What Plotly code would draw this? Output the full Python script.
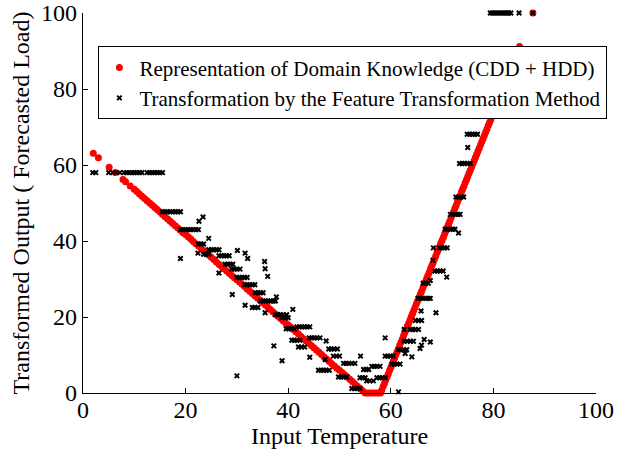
import plotly.graph_objects as go

# ---- Red series: domain knowledge representation (CDD + HDD) ----
red_temp = [
    2.0, 3.0, 5.1, 6.3, 7.8, 8.3, 9.2,
    10.0, 10.5, 11.0, 11.5, 12.0, 12.5, 13.0, 13.5, 14.0, 14.5,
    15.0, 15.5, 16.0, 16.5, 17.0, 17.5, 18.0, 18.5, 19.0, 19.5,
    20.0, 20.5, 21.0, 21.5, 22.0, 22.5, 23.0, 23.5, 24.0, 24.5,
    25.0, 25.5, 26.0, 26.5, 27.0, 27.5, 28.0, 28.5, 29.0, 29.5,
    30.0, 30.5, 31.0, 31.5, 32.0, 32.5, 33.0, 33.5, 34.0, 34.5,
    35.0, 35.5, 36.0, 36.5, 37.0, 37.5, 38.0, 38.5, 39.0, 39.5,
    40.0, 40.5, 41.0, 41.5, 42.0, 42.5, 43.0, 43.5, 44.0, 44.5,
    45.0, 45.5, 46.0, 46.5, 47.0, 47.5, 48.0, 48.5, 49.0, 49.5,
    50.0, 50.5, 51.0, 51.5, 52.0, 52.5, 53.0, 53.5, 54.0, 54.5,
    55.0, 55.5, 56.0, 56.5, 57.0, 57.5,
    58.0, 58.25, 58.5, 58.75, 59.0, 59.25, 59.5, 59.75,
    60.0, 60.25, 60.5, 60.75, 61.0, 61.25, 61.5, 61.75,
    62.0, 62.25, 62.5, 62.75, 63.0, 63.25, 63.5, 63.75,
    64.0, 64.25, 64.5, 64.75, 65.0, 65.25, 65.5, 65.75,
    66.0, 66.25, 66.5, 66.75, 67.0, 67.25, 67.5, 67.75,
    68.0, 68.25, 68.5, 68.75, 69.0, 69.25, 69.5, 69.75,
    70.0, 70.25, 70.5, 70.75, 71.0, 71.25, 71.5, 71.75,
    72.0, 72.25, 72.5, 72.75, 73.0, 73.25, 73.5, 73.75,
    74.0, 74.25, 74.5, 74.75, 75.0, 75.25, 75.5, 75.75,
    76.0, 76.25, 76.5, 76.75, 77.0, 77.25, 77.5, 77.75,
    78.0, 78.25, 78.5, 78.75, 79.0, 79.25, 79.5, 79.75,
    80.0, 81.0, 82.0, 83.0, 84.0, 85.1, 87.7,
]
red_load = [
    63.1, 61.9, 59.4, 58.0, 56.2, 55.6, 54.5,
    53.6, 53.0, 52.4, 51.8, 51.2, 50.6, 50.0, 49.4, 48.8, 48.2,
    47.6, 47.0, 46.4, 45.8, 45.2, 44.6, 44.0, 43.4, 42.8, 42.2,
    41.7, 41.1, 40.5, 39.9, 39.3, 38.7, 38.1, 37.5, 36.9, 36.3,
    35.7, 35.1, 34.5, 33.9, 33.3, 32.7, 32.1, 31.5, 30.9, 30.3,
    29.8, 29.2, 28.6, 28.0, 27.4, 26.8, 26.2, 25.6, 25.0, 24.4,
    23.8, 23.2, 22.6, 22.0, 21.4, 20.8, 20.2, 19.6, 19.0, 18.4,
    17.9, 17.3, 16.7, 16.1, 15.5, 14.9, 14.3, 13.7, 13.1, 12.5,
    11.9, 11.3, 10.7, 10.1, 9.5, 8.9, 8.3, 7.7, 7.1, 6.5,
    6.0, 5.4, 4.8, 4.2, 3.6, 3.0, 2.4, 1.8, 1.2, 0.6,
    0.0, 0.0, 0.0, 0.0, 0.0, 0.0,
    0.0, 0.8, 1.7, 2.5, 3.4, 4.2, 5.0, 5.9,
    6.7, 7.5, 8.4, 9.2, 10.1, 10.9, 11.7, 12.6,
    13.4, 14.2, 15.1, 15.9, 16.8, 17.6, 18.4, 19.3,
    20.1, 20.9, 21.8, 22.6, 23.5, 24.3, 25.1, 26.0,
    26.8, 27.6, 28.5, 29.3, 30.2, 31.0, 31.8, 32.7,
    33.5, 34.3, 35.2, 36.0, 36.9, 37.7, 38.5, 39.4,
    40.2, 41.0, 41.9, 42.7, 43.6, 44.4, 45.2, 46.1,
    46.9, 47.7, 48.6, 49.4, 50.3, 51.1, 51.9, 52.8,
    53.6, 54.4, 55.3, 56.1, 57.0, 57.8, 58.6, 59.5,
    60.3, 61.1, 62.0, 62.8, 63.7, 64.5, 65.3, 66.2,
    67.0, 67.8, 68.7, 69.5, 70.4, 71.2, 72.0, 72.9,
    73.7, 77.0, 80.4, 83.8, 87.1, 91.2, 100.0,
]

# ---- Black series: feature transformation output ----
black_temp = [
    79.4, 79.8, 80.2, 80.6, 81.0, 81.4, 81.8, 82.2, 82.6, 83.0, 83.4, 85.0, 87.7,
    77.6, 77.9, 78.3, 78.6, 79.0, 79.3,
    1.9, 2.5, 5.0, 5.8, 6.5, 7.2, 8.0, 8.5, 9.0, 9.5, 10.0, 10.5, 11.0, 11.5,
    12.5, 13.0, 13.5, 14.0, 14.5, 15.0, 15.5,
    15.5, 16.0, 16.5, 17.0, 17.5, 18.0, 18.5, 19.0,
    19.0, 19.5, 20.0, 20.5, 21.0, 21.5, 22.0, 22.5,
    19.0, 22.4, 22.6, 23.4, 24.5,
    22.5, 23.0, 23.5,
    23.5, 24.0, 24.5,
    24.5, 25.0, 25.5, 26.0, 26.5,
    26.5, 27.0, 27.5, 28.0, 28.5,
    26.5,
    27.7, 28.2, 28.7, 29.2,
    29.0, 29.5, 30.0, 30.6,
    29.1, 30.1, 30.0,
    30.0, 30.5, 31.0, 31.5, 32.0,
    31.6, 32.1,
    31.5, 32.0, 32.5, 33.0, 33.5,
    31.6,
    33.0, 33.5, 34.1,
    33.6, 34.1, 34.6, 35.1,
    35.4, 35.5, 36.0, 35.5,
    34.6, 35.1, 35.6, 36.1, 36.6, 37.1, 37.5,
    37.7, 37.2,
    37.5, 38.0, 38.5, 39.0, 39.7,
    38.8, 39.4, 40.0,
    38.8, 40.9,
    39.6, 40.1, 40.6, 41.2,
    40.7, 41.2, 41.7, 42.3,
    41.7, 42.2, 42.7, 43.2, 43.7, 44.2,
    42.0, 42.6, 43.2,
    44.2,
    44.1, 44.6, 45.1, 45.6, 46.2,
    47.4, 47.2,
    45.9, 46.4, 46.9, 47.4, 48.0,
    47.9, 48.4, 48.9, 49.6,
    48.8, 49.4, 50.0,
    50.8, 51.3, 51.8, 52.4, 53.0,
    54.1,
    49.8, 50.3, 50.8, 51.4,
    52.4, 52.9, 53.4, 54.0,
    54.0, 54.5, 55.0,
    54.7, 55.2, 55.7,
    55.3, 55.9, 56.6,
    56.3, 56.8, 57.3, 57.9,
    57.3, 57.8, 58.3, 58.9,
    58.9,
    58.9, 59.4, 59.9, 60.5,
    60.2, 60.7, 61.2, 61.8,
    61.5,
    61.5, 62.0, 62.5, 63.1,
    62.8, 64.1,
    62.6, 63.2, 63.8, 64.4,
    62.6,
    63.8, 64.3, 64.8, 65.4,
    65.7, 66.0, 66.5, 67.7,
    64.8, 65.4, 66.0,
    65.9, 68.8,
    65.3, 65.8, 66.3, 66.8, 67.3, 67.7,
    66.3, 66.8, 67.3,
    67.7,
    68.6, 69.1, 69.6, 70.2,
    70.9, 68.2,
    68.3, 69.5, 70.0, 70.5, 71.0,
    73.2,
    70.6, 71.1, 71.6, 72.1, 72.5,
    71.6, 72.1, 72.6, 73.1, 73.5,
    72.7, 73.2, 73.7, 74.2,
    73.4, 73.9, 74.4, 74.9, 75.5,
    75.0,
    74.9, 75.4, 75.9, 76.4, 76.9,
    76.0, 76.5, 77.0, 77.7,
]
black_load = [
    100, 100, 100, 100, 100, 100, 100, 100, 100, 100, 100, 100, 100,
    76.4, 77.2, 80.1, 80.5, 84.0, 87.5,
    58.0, 58.0, 58.0, 58.0, 58.0, 58.0, 58.0, 58.0, 58.0, 58.0, 58.0, 58.0, 58.0, 58.0,
    58.0, 58.0, 58.0, 58.0, 58.0, 58.0, 58.0,
    47.7, 47.7, 47.7, 47.7, 47.7, 47.7, 47.7, 47.7,
    43.0, 43.0, 43.0, 43.0, 43.0, 43.0, 43.0, 43.0,
    35.4, 36.8, 45.2, 46.3, 40.7,
    39.2, 39.2, 39.2,
    36.5, 36.5, 36.5,
    37.7, 37.7, 37.7, 37.7, 37.7,
    36.1, 36.1, 36.1, 36.1, 36.1,
    31.6,
    33.9, 33.9, 33.9, 33.9,
    32.6, 32.6, 32.6, 32.6,
    25.9, 37.5, 4.5,
    30.4, 30.4, 30.4, 30.4, 30.4,
    36.8, 35.4,
    28.5, 28.5, 28.5, 28.5, 28.5,
    23.1,
    22.5, 22.5, 22.5,
    26.4, 26.4, 26.4, 26.4,
    34.6, 32.7, 30.7, 21.1,
    24.2, 24.2, 24.2, 24.2, 24.2, 24.2, 24.2,
    25.3, 12.4,
    20.6, 20.6, 20.6, 20.6, 20.6,
    19.8, 19.8, 19.8,
    8.5, 22.0,
    16.9, 16.9, 16.9, 16.9,
    13.9, 13.9, 13.9, 13.9,
    17.4, 17.4, 17.4, 17.4, 17.4, 17.4,
    12.1, 12.1, 12.1,
    9.4,
    14.5, 14.5, 14.5, 14.5, 14.5,
    13.7, 8.8,
    6.0, 6.0, 6.0, 6.0, 6.0,
    11.6, 11.6, 11.6, 11.6,
    9.7, 9.7, 9.7,
    7.8, 7.8, 7.8, 7.8, 7.8,
    9.7,
    4.2, 4.2, 4.2, 4.2,
    1.2, 1.2, 1.2, 1.2,
    4.0, 4.0, 4.0,
    6.2, 6.2, 6.2,
    3.2, 3.2, 3.2,
    7.0, 7.0, 7.0, 7.0,
    4.0, 4.0, 4.0, 4.0,
    14.5,
    9.7, 9.7, 9.7, 9.7,
    7.6, 7.6, 7.6, 7.6,
    0.3,
    11.4, 11.4, 11.4, 11.4,
    10.4, 9.5,
    13.6, 13.6, 13.6, 13.6,
    16.7,
    16.7, 16.7, 16.7, 16.7,
    11.7, 12.6, 14.1, 13.4,
    19.1, 19.1, 19.1,
    21.6, 21.1,
    24.9, 24.9, 24.9, 24.9, 24.9, 24.9,
    28.9, 28.9, 28.9,
    29.6,
    32.1, 32.1, 32.1, 32.1,
    30.5, 34.9,
    38.2, 38.2, 38.2, 38.2, 38.2,
    42.1,
    43.1, 43.1, 43.1, 43.1, 43.1,
    47.0, 47.0, 47.0, 47.0, 47.0,
    51.6, 51.6, 51.6, 51.6,
    60.4, 60.4, 60.4, 60.4, 60.4,
    64.6,
    68.1, 68.1, 68.1, 68.1, 68.1,
    72.8, 72.8, 72.8, 72.8,
]

x_ticks = [0, 20, 40, 60, 80, 100]
y_ticks = [0, 20, 40, 60, 80, 100]

FONT = "Liberation Serif, Times New Roman, serif"

fig = go.Figure()
fig.add_trace(go.Scatter(
    x=red_temp, y=red_load, mode="markers",
    name="Representation of Domain Knowledge (CDD + HDD)",
    marker=dict(color="#ff0000", size=7, line=dict(width=0)),
    cliponaxis=False,
))
fig.add_trace(go.Scatter(
    x=black_temp, y=black_load, mode="markers",
    name="Transformation by the Feature Transformation Method",
    marker=dict(symbol="x-thin", color="black", size=4.5,
                line=dict(color="black", width=2)),
    cliponaxis=False,
))

axis_common = dict(
    showgrid=False, zeroline=False, showline=True, linecolor="black",
    linewidth=1.2, mirror=False, ticks="inside", ticklen=5, tickwidth=1,
    tickcolor="black", automargin=False,
    tickfont=dict(family=FONT, size=24, color="black"),
)
fig.update_xaxes(range=[0, 100], tickvals=x_ticks, ticklabelstandoff=-5,
                 title=dict(text="Input Temperature",
                            font=dict(family=FONT, size=24, color="black"),
                            standoff=0),
                 **axis_common)
fig.update_yaxes(range=[0, 100], tickvals=y_ticks,
                 title=dict(text="Transformed Output ( Forecasted Load)",
                            font=dict(family=FONT, size=24, color="black"),
                            standoff=4),
                 **axis_common)

fig.update_layout(
    width=631, height=449,
    margin=dict(l=83, r=35, t=13, b=56, autoexpand=False),
    paper_bgcolor="white", plot_bgcolor="white",
    showlegend=True,
    legend=dict(x=0.03, y=0.912, xanchor="left", yanchor="top",
                bgcolor="white", bordercolor="black", borderwidth=1,
                font=dict(family=FONT, size=21, color="black"),
                tracegroupgap=0),
)

fig.write_html(
    "out.html",
    config={"displayModeBar": False},
    post_script="document.body.style.margin='0';document.body.style.padding='0';",
)
